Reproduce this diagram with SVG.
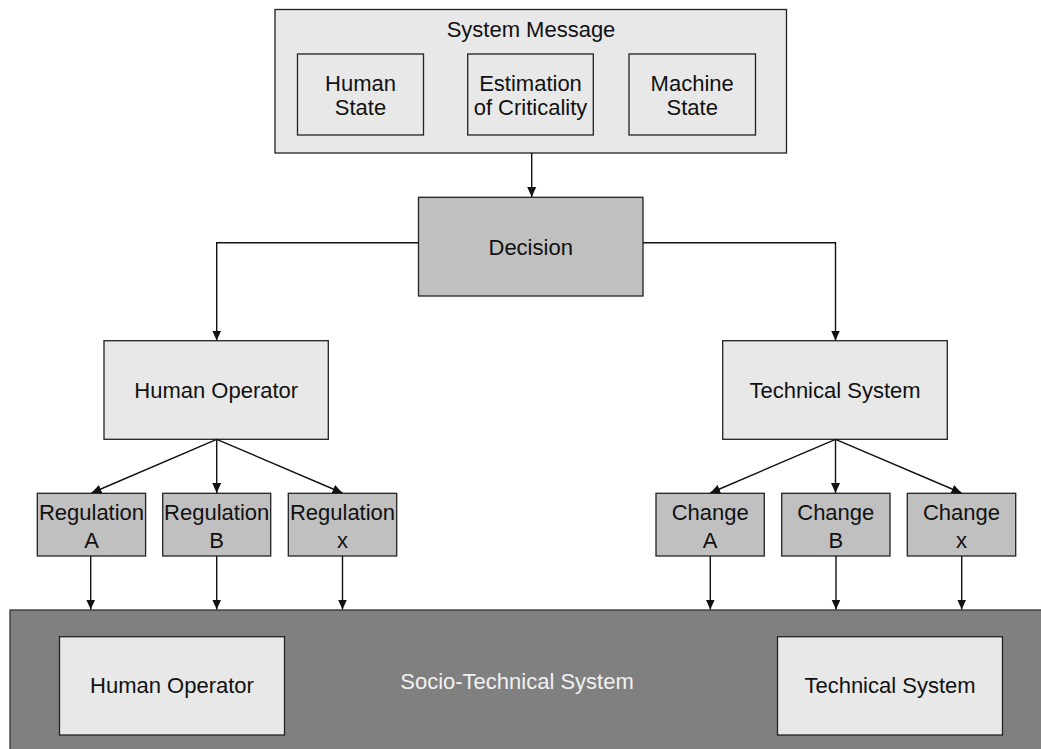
<svg xmlns="http://www.w3.org/2000/svg" width="1041" height="749" viewBox="0 0 1041 749">
<style>
text{font-family:"Liberation Sans",Arial,sans-serif;font-size:22px;fill:#111;text-anchor:middle}
.light{fill:#e8e8e8;stroke:#222;stroke-width:1.3}
.mid{fill:#c0c0c0;stroke:#222;stroke-width:1.3}
.dark{fill:#808080;stroke:#333;stroke-width:1.3}
.wt{fill:#f2f2f2}
.con{fill:none;stroke:#111;stroke-width:1.4}
</style>
<defs>
<marker id="arr" markerUnits="userSpaceOnUse" markerWidth="12" markerHeight="12" viewBox="0 0 12 12" refX="10" refY="6" orient="auto">
<path d="M0,1.5 L10,6 L0,10.5 Z" fill="#111"/>
</marker>
</defs>
<rect width="1041" height="749" fill="#ffffff"/>
<g id="sts">
<rect class="dark" x="10" y="610" width="1040" height="150"/>
<text class="wt" x="517" y="689">Socio-Technical System</text>
</g>
<g id="sts-human">
<rect class="light" x="59.5" y="636.7" width="225" height="98.3"/>
<text x="172" y="693">Human Operator</text>
</g>
<g id="sts-technical">
<rect class="light" x="777.5" y="636.7" width="225" height="98.3"/>
<text x="890" y="693">Technical System</text>
</g>
<g id="system-message">
<rect class="light" x="275" y="9.5" width="511.5" height="143.5"/>
<text x="531" y="37">System Message</text>
</g>
<g id="human-state">
<rect class="light" x="297.5" y="54" width="126" height="81"/>
<text x="360.5" y="90.5">Human</text>
<text x="360.5" y="115">State</text>
</g>
<g id="criticality">
<rect class="light" x="467.7" y="54" width="125.6" height="81"/>
<text x="530.5" y="90.5">Estimation</text>
<text x="530.5" y="115">of Criticality</text>
</g>
<g id="machine-state">
<rect class="light" x="629" y="54" width="126.5" height="81"/>
<text x="692.2" y="90.5">Machine</text>
<text x="692.2" y="115">State</text>
</g>
<g id="decision">
<rect class="mid" x="418.5" y="197.3" width="224.5" height="98.7"/>
<text x="530.7" y="255">Decision</text>
</g>
<g id="human-operator">
<rect class="light" x="104" y="340.7" width="224.3" height="98.6"/>
<text x="216.2" y="398">Human Operator</text>
</g>
<g id="technical-system">
<rect class="light" x="722.7" y="340.7" width="224.6" height="98.6"/>
<text x="835" y="398">Technical System</text>
</g>
<g id="reg-a">
<rect class="mid" x="37.3" y="493.3" width="108.3" height="62.7"/>
<text x="91.5" y="520">Regulation</text>
<text x="91.5" y="548">A</text>
</g>
<g id="reg-b">
<rect class="mid" x="162.7" y="493.3" width="108" height="62.7"/>
<text x="216.7" y="520">Regulation</text>
<text x="216.7" y="548">B</text>
</g>
<g id="reg-x">
<rect class="mid" x="288.3" y="493.3" width="108.4" height="62.7"/>
<text x="342.5" y="520">Regulation</text>
<text x="342.5" y="548">x</text>
</g>
<g id="change-a">
<rect class="mid" x="656" y="493.3" width="108.3" height="62.7"/>
<text x="710.2" y="520">Change</text>
<text x="710.2" y="548">A</text>
</g>
<g id="change-b">
<rect class="mid" x="781.7" y="493.3" width="108.3" height="62.7"/>
<text x="835.8" y="520">Change</text>
<text x="835.8" y="548">B</text>
</g>
<g id="change-x">
<rect class="mid" x="907.3" y="493.3" width="108.4" height="62.7"/>
<text x="961.5" y="520">Change</text>
<text x="961.5" y="548">x</text>
</g>
<g id="connectors">
<path class="con" d="M531.7,153 V197" marker-end="url(#arr)"/>
<path class="con" d="M418.5,242.7 H216.7 V340.5" marker-end="url(#arr)"/>
<path class="con" d="M643,242.7 H835.5 V340.5" marker-end="url(#arr)"/>
<path class="con" d="M216.7,439.3 L91.5,493" marker-end="url(#arr)"/>
<path class="con" d="M216.7,439.3 V493" marker-end="url(#arr)"/>
<path class="con" d="M216.7,439.3 L342.5,493" marker-end="url(#arr)"/>
<path class="con" d="M835.5,439.3 L710.2,493" marker-end="url(#arr)"/>
<path class="con" d="M835.5,439.3 V493" marker-end="url(#arr)"/>
<path class="con" d="M835.5,439.3 L961.5,493" marker-end="url(#arr)"/>
<path class="con" d="M90.7,556 V609.5" marker-end="url(#arr)"/>
<path class="con" d="M216.7,556 V609.5" marker-end="url(#arr)"/>
<path class="con" d="M342.5,556 V609.5" marker-end="url(#arr)"/>
<path class="con" d="M710.3,556 V609.5" marker-end="url(#arr)"/>
<path class="con" d="M836,556 V609.5" marker-end="url(#arr)"/>
<path class="con" d="M961.7,556 V609.5" marker-end="url(#arr)"/>
</g>
</svg>
